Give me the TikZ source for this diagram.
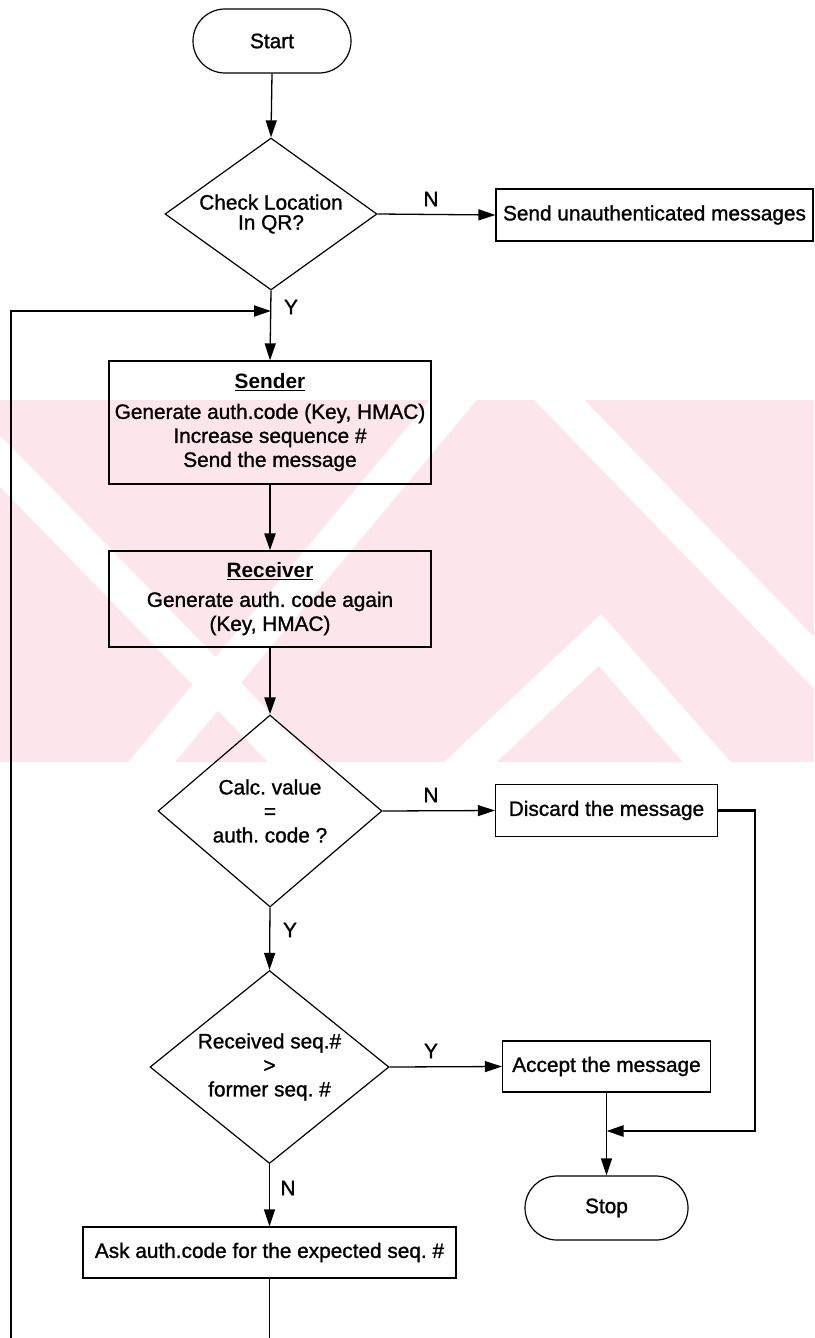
\documentclass[tikz,border=0pt]{standalone}
\usepackage{fontspec}
\setmainfont{Liberation Sans}[UprightFeatures={FakeBold=1.2}]
\usetikzlibrary{shapes.geometric,arrows.meta}
\definecolor{wmpink}{RGB}{252,230,235}
\begin{document}
\frenchspacing
\begin{tikzpicture}[x=1pt,y=-1pt,
  txt/.style={font=\fontsize{20.8}{24}\selectfont},
  box/.style={txt, draw, line width=1.2pt, rectangle, inner sep=0pt, align=center},
  term/.style={txt, draw, line width=1.2pt, rectangle, rounded corners=32pt, inner sep=0pt},
  dec/.style={txt, draw, line width=1.2pt, diamond, inner sep=0pt, align=center},
  conn/.style={line width=1.3pt},
  heavy/.style={line width=2.4pt},
  arr/.style={-{Triangle[length=17pt,width=11pt]}},
  lbl/.style={txt, inner sep=0pt},
  wmstripe/.style={white, line width=36pt}
]
\useasboundingbox (0,0) rectangle (814,1338);

% watermark band
\begin{scope}
  \clip (0,400) rectangle (814,762);
  \fill[wmpink] (0,400) rectangle (814,762);
  \draw[wmstripe] (-40,420) -- (330,800);
  \draw[wmstripe] (120,800) -- (470,380);
  \draw[wmstripe] (430,800) -- (600,640) -- (740,800);
  \draw[wmstripe] (540,380) -- (850,700);
\end{scope}

% nodes
\node[term, minimum width=158pt, minimum height=64pt] (start) at (272,41) {Start};
\node[dec, aspect=1.39, minimum width=212pt, minimum height=152pt, font=\fontsize{20.8}{20}\selectfont] (d1) at (271,214) {Check Location\\In QR?};
\node[box, minimum width=317pt, minimum height=52pt] (send) at (654.5,215) {Send unauthenticated messages};
\node[box, minimum width=322pt, minimum height=123pt] (sender) at (270,422.5)
  {\underline{\textbf{Sender}}\\[6pt]Generate auth.code (Key, HMAC)\\Increase sequence \#\\Send the message};
\node[box, minimum width=322pt, minimum height=96pt] (receiver) at (270,599)
  {\underline{\textbf{Receiver}}\\[5pt]Generate auth. code again\\(Key, HMAC)};
\node[dec, aspect=1.17, minimum width=224pt, minimum height=192pt] (d2) at (270,811) {Calc. value\\=\\auth. code ?};
\node[box, minimum width=222pt, minimum height=52pt] (discard) at (606.5,810.5) {Discard the message};
\node[dec, aspect=1.24, minimum width=239pt, minimum height=193pt] (d3) at (269.5,1067) {Received seq.\#\\>\\former seq. \#};
\node[box, minimum width=208pt, minimum height=51pt] (accept) at (606.5,1066.5) {Accept the message};
\node[term, minimum width=163pt, minimum height=64pt] (stop) at (606.5,1208) {Stop};
\node[box, minimum width=373pt, minimum height=51pt] (ask) at (269.5,1252.5) {Ask auth.code for the expected seq. \#};

% labels
\node[lbl] (ln1) at (431,199) {N};
\node[lbl] (ly1) at (291,307) {Y};
\node[lbl] (ln2) at (431,795) {N};
\node[lbl] (ly2) at (290,930) {Y};
\node[lbl] (ly3) at (431,1051) {Y};
\node[lbl] (ln3) at (288,1188) {N};

% helper coordinates
\coordinate (loopin) at (271,311);
\coordinate (loopbot) at (11,1338);
\coordinate (askbot) at (269.5,1338);
\coordinate (dcorner) at (755,810.5);
\coordinate (join) at (606.5,1131);

% connectors
\draw[conn,arr] (start.south) -- (d1.north);
\draw[conn,arr] (d1.east) -- (send.west);
\draw[conn,arr] (d1.south) -- (sender.north);
\draw[line width=2pt,arr] (loopbot) |- (loopin);
\draw[heavy,arr] (sender.south) -- (receiver.north);
\draw[heavy,arr] (receiver.south) -- (d2.north);
\draw[conn,arr] (d2.east) -- (discard.west);
\draw[heavy,arr] (discard.east) -- (dcorner) |- (join);
\draw[conn,arr] (d2.south) -- (d3.north);
\draw[conn,arr] (d3.east) -- (accept.west);
\draw[conn,arr] (accept.south) -- (stop.north);
\draw[conn,arr] (d3.south) -- (ask.north);
\draw[conn] (ask.south) -- (askbot);
\end{tikzpicture}
\end{document}
